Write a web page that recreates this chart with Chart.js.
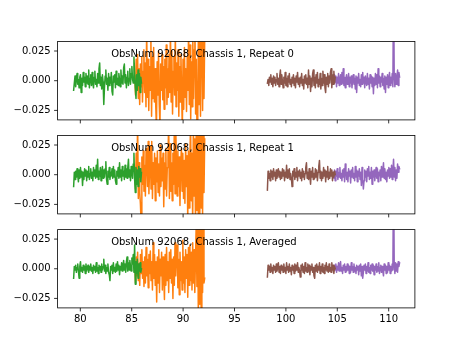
<!DOCTYPE html>
<html><head><meta charset="utf-8">
<script src="https://cdn.jsdelivr.net/npm/chart.js@4/dist/chart.umd.min.js"></script>
<style>
html,body{margin:0;padding:0;background:#fff;width:461px;height:346px;overflow:hidden}
#w{position:relative;width:461px;height:346px}
canvas{position:absolute;left:0}
</style></head><body>
<div id="w"></div>
<script>
// ---------- data ----------
const xTicks = [80, 85, 90, 95, 100, 105, 110];
const yTicks = [-0.025, 0, 0.025];
const xLim = [77.79, 112.55];
const yLim = [-0.033, 0.033];
const panelTitles = ["ObsNum 92068, Chassis 1, Repeat 0", "ObsNum 92068, Chassis 1, Repeat 1", "ObsNum 92068, Chassis 1, Averaged"];
const titlePos = [83, 0.02];
const bandStart = [79.35, 85.3, 98.2, 104.6];
const bandEnd = [85.95, 92.1, 104.8, 111.06];
const bandColors = ["#2ca02c", "#ff7f0e", "#8c564b", "#9467bd"];

// values in units of 0.001
const rep0Green = [-8,-2,4,-5,2,6,-3,1,-6,3, 5,-10,2,-4,7,-1,3,-5,6,-2, 4,-3,9,-6,2,5,-4,7,-2,-6, 3,8,-3,1,-5,6,-2,10,15,-4, 3,-7,5,-1,-20,-6,4,9,-3,2, -8,6,-4,3,-2,7,-9,-12,4,-1, 5,-6,8,-3,2,-4,6,1,-5,9, -2,4,-3,11,14,-2,5,-6,3,8, -4,2,10,-3,6,12,1,-2,20,7, -6,-15,5,-8,9,-4,6,-10,3,-2];
const rep0Orange = [4,-12,18,-8,22,-15,10,-20,14,-5, 20,-18,8,26,-10,15,-22,45,-14,18, -25,12,-8,42,-30,20,-15,28,-18,10, -22,-40,16,-12,25,-20,-38,14,-8,22, -16,12,-24,18,-6,30,-20,10,-14,22, -10,44,-18,25,-28,8,20,-12,40,-22, 15,-8,26,-30,12,-18,22,-10,-42,18, -24,28,-14,10,-26,20,-8,48,-20,30, -32,16,-22,35,-15,26,50,-28,18,-45, -38,42,-20,55,-30,38,52,-25,40,-15, 35];
const rep0Brown = [-2,1,-4,3,-1,5,-3,2,-5,4, -2,3,-4,1,6,-3,2,-5,4,9, -3,5,-1,-6,3,-2,7,-4,2,-5, 4,-1,6,-3,1,-5,3,-2,5,-4, 2,-6,4,-1,7,-3,2,-5,3,-2, 6,-4,1,-7,4,-2,5,-3,2,-6, 9,-3,4,-9,2,-5,6,9,-4,3, -6,5,-2,7,-5,1,-3,6,-7,2, -4,8,-2,5,-6,-10,3,-3,6,-5, 4,-2,7,10,-6,5,-3,8,-2,3];
const rep0Purple = [2,-3,5,-1,4,-5,3,-2,6,-4, 1,5,-3,7,-2,10,-4,3,-6,2, 5,-3,-1,6,-5,3,-2,4,-6,1, 5,-3,2,-7,4,-10,3,-2,6,-4, 1,-5,5,-3,7,-2,3,-6,4,-1, -4,6,-3,2,-7,5,-2,4,-5,3, -11,2,-4,6,-3,5,-6,10,-2,4, -5,3,-1,6,-4,2,-7,4,-10,3, -3,5,-6,2,7,-4,3,-2,6,-5, 90,4,-5,6,-3,2,9,-4,7,3];

const rep1Green = [-10,2,-4,3,-2,5,-1,-6,4,-3, 6,-2,3,-9,2,-4,5,-1,4,-5, 3,-2,7,-4,1,5,-3,2,-5,6, -1,4,-3,8,-2,13,-4,3,-1,6, -5,2,7,-3,4,-2,5,11,-4,-8, 3,-2,6,-4,2,-1,5,-3,7,-2, 4,-5,-8,3,-1,6,-3,10,-2,4, -5,7,-1,3,-4,8,-2,5,-3,6, 13,-2,4,-5,7,1,-3,9,18,-4, -15,6,-8,4,-10,7,-2,5,-6,2];
const rep1Orange = [6,-12,18,-6,45,-20,10,-15,-25,-42, 15,-8,20,-14,8,-18,22,12,-10,28, -16,6,24,-12,28,-20,10,-8,18,-22, 14,-6,20,-15,9,-18,25,-10,14,-5, 18,-27,10,-12,22,-18,6,15,44,-20, 26,-14,10,-22,18,-8,40,-16,38,12, -18,20,-10,15,-26,8,22,-14,18,-20, 12,-24,26,-10,16,-38,20,-28,10,45, -22,18,-40,48,-18,30,-45,42,-30,50, -45,36,-40,52,-28,44,-35,40,-15,30];
const rep1Brown = [-13,3,-3,1,-5,4,-2,3,-4,5, -1,2,-5,4,-3,1,5,-2,3,-4, 2,-3,5,-1,4,-5,2,-2,8,-3, 4,-2,5,-4,1,-3,-10,3,-1,5, -4,2,-2,6,-5,3,-1,4,-3,2, -5,5,-2,3,-4,1,6,10,-3,2, -4,5,-1,-8,3,-2,6,-4,1,-3, 5,-2,4,-5,2,7,12,-3,3,-5, 2,-3,6,-1,4,-6,3,-2,7,-4, 2,-3,5,-1,4,-5,2,-2,3,0];
const rep1Purple = [2,-3,4,-5,3,-1,5,-4,2,-2, 6,-3,1,-5,4,-2,5,-6,9,3, -4,2,-6,5,-1,3,-7,4,-2,6, -3,1,-5,7,-2,4,-6,3,-1,5, -4,2,-9,6,-3,-12,-5,4,-2,3, -6,5,-1,7,-4,2,-3,6,-8,3, -2,4,-5,1,6,-3,5,-6,2,-1, 4,-5,7,-2,3,10,-3,5,-4,2, -6,4,-1,6,-3,5,-2,8,-4,3, 13,-2,6,-5,4,-3,9,2,7,5];

const avgGreen = [-8,2,-1,3,-3,1,4,-2,-8,2, 6,-2,1,-3,3,-1,2,-4,4,-2, 1,3,-3,2,-1,4,-2,1,-4,3, -1,2,-3,5,-2,1,-4,3,-1,2, -3,4,-1,2,8,-2,3,-4,1,-2, 4,-3,-5,-10,2,-1,3,-4,5,-2, 1,-3,4,-2,6,-1,3,-5,2,-1, 5,-2,3,7,-1,4,-3,6,10,-2, 5,-1,7,2,-2,9,4,12,-3,20, -13,6,-4,8,-8,4,-2,5,-3,0];
const avgOrange = [5,-12,10,-6,14,-10,4,-14,12,-4, 16,-8,6,-15,10,-12,18,-6,8,-16, 12,-4,15,-10,6,-18,22,-8,12,-14, 6,-28,10,-12,16,-20,8,-6,14,-18, 10,-8,-26,12,-14,18,-10,6,-20,14, -8,16,-12,8,-25,10,-14,22,-6,12, 20,-16,8,-22,14,-10,6,-18,24,-12, 10,-20,16,-8,12,-24,18,-14,20,-10, 14,-18,22,-12,16,-20,10,38,-15,45, -40,48,-30,42,-35,50,-20,36,-12,-8];
const avgBrown = [-7,3,-1,2,-3,4,-2,1,-4,3, -1,2,-3,4,-2,1,5,-3,2,-4, 3,-1,2,-3,4,-2,1,-4,5,-1, 2,-3,4,-2,1,-5,3,-1,2,-4, 4,-2,3,-1,5,-3,1,-2,-7,3, -1,4,-3,2,-4,5,-2,1,-3,4, -2,3,-5,2,-1,4,-3,1,-6,-8, 3,-2,4,-3,2,-1,5,-4,2,-2, 4,-3,1,-4,3,-1,5,-2,2,-3, 4,-2,1,-3,5,-1,3,-4,2,0];
const avgPurple = [2,-2,3,-1,4,-3,2,-1,5,-2, 3,6,-2,1,-4,3,-1,4,-3,2, -2,4,-1,3,-4,2,-3,5,-1,2, -3,4,-2,1,-4,3,-1,2,-5,3, -2,4,-6,2,-8,-3,3,-1,4,-4, 2,-2,5,-3,1,-4,3,-1,4,-2, 3,-5,2,-1,4,-3,2,-2,5,-4, 1,3,-3,2,-2,-6,4,-1,3,-4, 2,-3,5,-1,3,-4,2,-2,4,-1, 90,3,-4,5,-2,4,-3,6,2,5];

const panelSeries = [
  [rep0Green, rep0Orange, rep0Brown, rep0Purple],
  [rep1Green, rep1Orange, rep1Brown, rep1Purple],
  [avgGreen, avgOrange, avgBrown, avgPurple]
];

// ---------- layout ----------
const panels = [
  {top:0,   h:128, aTop:41.5,  aBot:119.9, labels:false},
  {top:128, h:94,  aTop:135.5, aBot:213.9, labels:false},
  {top:222, h:124, aTop:229.6, aBot:307.9, labels:true}
];
const areaLeft = 57.6, areaRight = 414.9;
const FONT = '10px "DejaVu Sans"';

function band(vals, i){
  const n = vals.length, x0 = bandStart[i], x1 = bandEnd[i];
  return vals.map((v,k)=>({x: x0 + k*(x1-x0)/(n-1), y: v/1000}));
}
function fmtY(v){
  const s = Math.abs(v).toFixed(3);
  return v < 0 ? '\u2212' + s : s;
}

const axesPlugin = {
  id:'mplAxes',
  afterDatasetsDraw(chart, args, opts){
    const {ctx, chartArea:a, scales:{x,y}} = chart;
    ctx.save();
    ctx.strokeStyle = '#000'; ctx.lineWidth = 0.8; ctx.fillStyle = '#000';
    ctx.strokeRect(a.left, a.top, a.right-a.left, a.bottom-a.top);
    ctx.font = FONT;
    ctx.textAlign = 'right'; ctx.textBaseline = 'middle';
    yTicks.forEach(v=>{
      const py = y.getPixelForValue(v);
      ctx.beginPath(); ctx.moveTo(a.left-3.5, py); ctx.lineTo(a.left, py); ctx.stroke();
      ctx.fillText(fmtY(v), a.left-7, py);
    });
    ctx.textAlign = 'center'; ctx.textBaseline = 'top';
    xTicks.forEach(v=>{
      const px = x.getPixelForValue(v);
      ctx.beginPath(); ctx.moveTo(px, a.bottom); ctx.lineTo(px, a.bottom+3.5); ctx.stroke();
      if (opts.labels) ctx.fillText(String(v), px, a.bottom+7);
    });
    ctx.textAlign = 'left'; ctx.textBaseline = 'alphabetic';
    ctx.fillText(opts.title, x.getPixelForValue(titlePos[0]), y.getPixelForValue(titlePos[1]));
    ctx.restore();
  }
};

const wrap = document.getElementById('w');
panels.forEach((p, pi)=>{
  const cv = document.createElement('canvas');
  cv.width = 461; cv.height = p.h;
  cv.style.top = p.top + 'px'; cv.style.width = '461px'; cv.style.height = p.h + 'px';
  wrap.appendChild(cv);
  const datasets = panelSeries[pi].map((vals, i)=>({
    data: band(vals, i),
    borderColor: bandColors[i],
    backgroundColor: bandColors[i],
    borderWidth: 1.5,
    pointRadius: 0,
    tension: 0,
    fill: false,
    clip: 0,
    borderJoinStyle: 'round',
    borderCapStyle: 'square',
    order: i
  }));
  new Chart(cv, {
    type: 'line',
    data: {datasets},
    options: {
      responsive: false,
      animation: false,
      devicePixelRatio: 1,
      layout: {padding: {left: areaLeft, right: 461-areaRight, top: p.aTop - p.top, bottom: p.top + p.h - p.aBot}},
      plugins: {legend:{display:false}, tooltip:{enabled:false}, mplAxes:{labels:p.labels, title:panelTitles[pi]}},
      scales: {
        x: {type:'linear', min:xLim[0], max:xLim[1], display:false},
        y: {type:'linear', min:yLim[0], max:yLim[1], display:false}
      }
    },
    plugins: [axesPlugin]
  });
});
</script>
</body></html>
